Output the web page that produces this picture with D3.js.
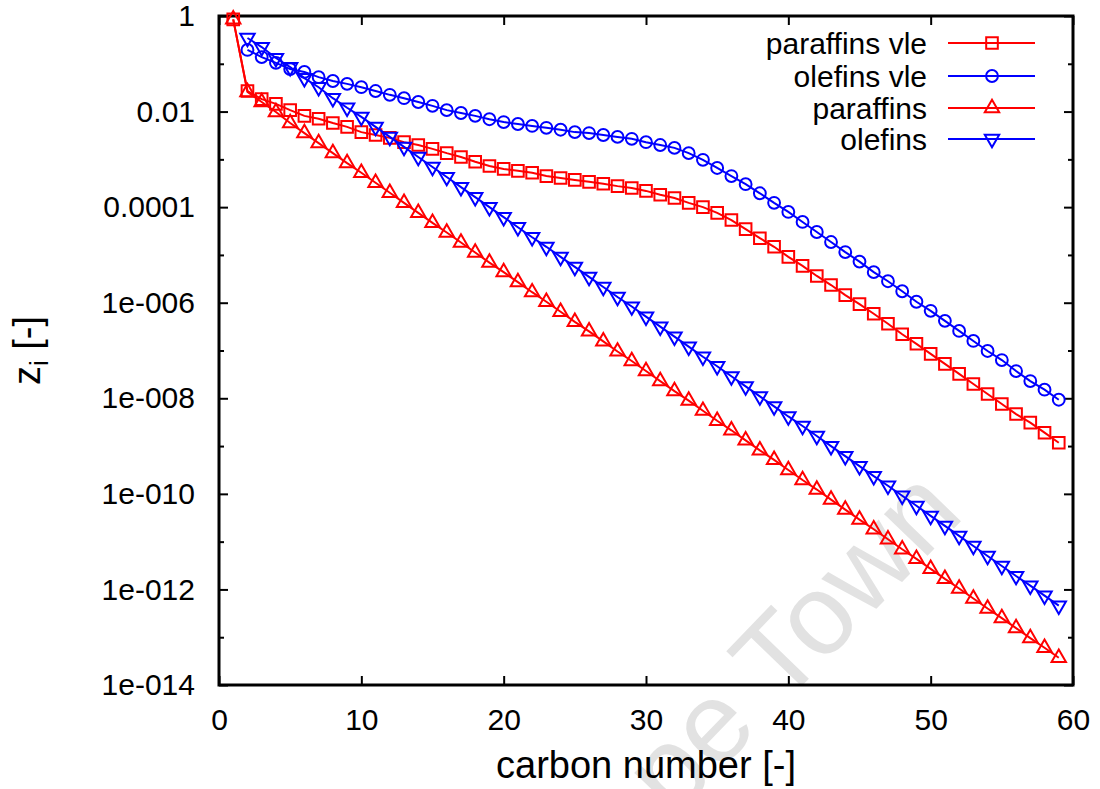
<!DOCTYPE html>
<html>
<head>
<meta charset="utf-8">
<script src="https://cdn.jsdelivr.net/npm/d3@7"></script>
<style>
  body { margin: 0; background: #fff; }
  text { font-family: "Liberation Sans", Arial, sans-serif; }
</style>
</head>
<body>
<div id="graph"></div>
<script>
// carbon numbers
var cnAll = [1,2,3,4,5,6,7,8,9,10,11,12,13,14,15,16,17,18,19,20,21,22,23,24,25,26,27,28,29,30,
  31,32,33,34,35,36,37,38,39,40,41,42,43,44,45,46,47,48,49,50,51,52,53,54,55,56,57,58,59];
var cnOle = cnAll.slice(1);

// log10(z_i)
var paraffinsVle = [-0.07,-1.57,-1.74,-1.84,-1.97,-2.09,-2.15,-2.24,-2.32,-2.43,-2.49,-2.55,-2.64,-2.70,-2.78,
  -2.87,-2.95,-3.05,-3.14,-3.20,-3.24,-3.28,-3.35,-3.39,-3.43,-3.47,-3.51,-3.56,-3.60,-3.66,
  -3.74,-3.81,-3.91,-4.00,-4.12,-4.27,-4.46,-4.65,-4.83,-5.04,-5.23,-5.44,-5.63,-5.84,-6.03,
  -6.23,-6.44,-6.66,-6.86,-7.07,-7.28,-7.49,-7.70,-7.91,-8.12,-8.33,-8.51,-8.72,-8.93];
var olefinsVle = [-0.71,-0.86,-0.98,-1.11,-1.17,-1.28,-1.36,-1.42,-1.49,-1.57,-1.65,-1.72,-1.80,-1.88,
  -1.97,-2.03,-2.09,-2.16,-2.22,-2.26,-2.30,-2.34,-2.38,-2.43,-2.45,-2.49,-2.53,-2.57,-2.64,
  -2.70,-2.76,-2.87,-3.01,-3.18,-3.35,-3.52,-3.71,-3.91,-4.10,-4.31,-4.52,-4.73,-4.94,-5.14,
  -5.36,-5.55,-5.76,-5.98,-6.17,-6.38,-6.59,-6.80,-7.01,-7.20,-7.43,-7.64,-7.82,-8.03];
var paraffins = [-0.07,-1.59,-1.80,-2.01,-2.24,-2.45,-2.66,-2.87,-3.08,-3.28,-3.49,-3.70,-3.91,-4.12,-4.33,
  -4.53,-4.74,-4.95,-5.16,-5.36,-5.57,-5.78,-5.98,-6.19,-6.40,-6.60,-6.81,-7.02,-7.22,-7.43,
  -7.64,-7.85,-8.05,-8.26,-8.47,-8.67,-8.88,-9.09,-9.29,-9.50,-9.71,-9.91,-10.12,-10.33,-10.54,
  -10.74,-10.95,-11.16,-11.36,-11.57,-11.78,-11.98,-12.19,-12.40,-12.60,-12.81,-13.02,-13.22,-13.43];
var olefins = [-0.46,-0.65,-0.88,-1.07,-1.30,-1.49,-1.72,-1.92,-2.11,-2.32,-2.53,-2.74,-2.95,-3.16,
  -3.37,-3.58,-3.79,-4.00,-4.21,-4.42,-4.63,-4.83,-5.04,-5.25,-5.46,-5.67,-5.88,-6.08,-6.29,
  -6.50,-6.71,-6.92,-7.13,-7.33,-7.54,-7.75,-7.96,-8.17,-8.38,-8.58,-8.79,-9.00,-9.21,-9.42,
  -9.63,-9.83,-10.04,-10.25,-10.46,-10.67,-10.88,-11.09,-11.30,-11.51,-11.72,-11.92,-12.13,-12.34];

var seriesNames = ["paraffins vle", "olefins vle", "paraffins", "olefins"];
var seriesColors = ["#ff0000", "#0000ff", "#ff0000", "#0000ff"];

var xTicks = [0,10,20,30,40,50,60];
var yTicks = [1,1e-2,1e-4,1e-6,1e-8,1e-10,1e-12,1e-14];
var yTickLabels = ["1","0.01","0.0001","1e-006","1e-008","1e-010","1e-012","1e-014"];
var yMinor = [1e-1,1e-3,1e-5,1e-7,1e-9,1e-11,1e-13];

var width = 1100, height = 789;
var margin = {top: 16, right: 27, bottom: 104, left: 219};
var w = width - margin.left - margin.right;
var h = height - margin.top - margin.bottom;

var svg = d3.select("#graph")
  .append("svg")
    .attr("width", width)
    .attr("height", height);

// watermark
svg.append("text")
  .attr("transform", "translate(966,516) rotate(-46)")
  .attr("text-anchor", "end")
  .attr("font-size", 114)
  .attr("fill", "#e2e2e2")
  .text("University of Cape Town");

var g = svg.append("g")
  .attr("transform", "translate(" + margin.left + "," + margin.top + ")");

var x = d3.scaleLinear().domain([0, 60]).range([0, w]);
var y = d3.scaleLog().domain([1, 1e-14]).range([0, h]);

var styleAxis = function(sel) {
  sel.select(".domain").remove();
  sel.selectAll(".tick line").attr("stroke", "#000").attr("stroke-width", 2);
  sel.selectAll("text").attr("font-size", 30).attr("fill", "#000");
};

g.append("g")
  .attr("transform", "translate(0," + h + ")")
  .call(d3.axisBottom(x).tickValues(xTicks).tickSize(-9).tickPadding(24).tickFormat(d3.format("d")))
  .call(styleAxis);
g.append("g")
  .call(d3.axisTop(x).tickValues(xTicks).tickSize(-9).tickFormat(""))
  .call(styleAxis);
g.append("g")
  .call(d3.axisLeft(y).tickValues(yTicks).tickSize(-9).tickPadding(24)
    .tickFormat(function(d, i) { return yTickLabels[i]; }))
  .call(styleAxis);
g.append("g")
  .call(d3.axisLeft(y).tickValues(yMinor).tickSize(-5).tickFormat(""))
  .call(styleAxis);
g.append("g")
  .attr("transform", "translate(" + w + ",0)")
  .call(d3.axisRight(y).tickValues(yTicks).tickSize(-9).tickFormat(""))
  .call(styleAxis);
g.append("g")
  .attr("transform", "translate(" + w + ",0)")
  .call(d3.axisRight(y).tickValues(yMinor).tickSize(-5).tickFormat(""))
  .call(styleAxis);

g.append("rect")
  .attr("width", w).attr("height", h)
  .attr("fill", "none").attr("stroke", "#000").attr("stroke-width", 3);

// axis titles
svg.append("text")
  .attr("x", margin.left + w / 2).attr("y", 778)
  .attr("text-anchor", "middle").attr("font-size", 38)
  .text("carbon number [-]");
var yl = svg.append("text")
  .attr("transform", "translate(40," + (margin.top + h / 2) + ") rotate(-90)")
  .attr("text-anchor", "middle").attr("font-size", 38);
yl.append("tspan").text("z");
yl.append("tspan").attr("font-size", 26).attr("dy", 8).text("i");
yl.append("tspan").attr("dy", -8).text(" [-]");

var symbols = [
  d3.symbol().type(d3.symbolSquare).size(135),
  d3.symbol().type(d3.symbolCircle).size(110),
  d3.symbol().type(d3.symbolTriangle).size(90),
  d3.symbol().type(d3.symbolTriangle).size(90)
];
var rotations = [0, 0, 0, 180];

var makeData = function(cn, logs) {
  return cn.map(function(c, i) { return {cn: c, z: Math.pow(10, logs[i])}; });
};
var allSeries = [
  makeData(cnAll, paraffinsVle),
  makeData(cnOle, olefinsVle),
  makeData(cnAll, paraffins),
  makeData(cnOle, olefins)
];

var line = d3.line()
  .x(function(d) { return x(d.cn); })
  .y(function(d) { return y(d.z); });

allSeries.forEach(function(data, k) {
  g.append("path")
    .datum(data)
    .attr("fill", "none")
    .attr("stroke", seriesColors[k])
    .attr("stroke-width", 2)
    .attr("d", line);
  g.selectAll(".pt" + k)
    .data(data)
    .enter().append("path")
      .attr("class", "pt" + k)
      .attr("transform", function(d) {
        return "translate(" + x(d.cn) + "," + y(d.z) + ") rotate(" + rotations[k] + ")";
      })
      .attr("d", symbols[k])
      .attr("fill", "none")
      .attr("stroke", seriesColors[k])
      .attr("stroke-width", 2);
});

// legend
var legendY = [43, 76, 108, 139];
var legend = svg.append("g");
seriesNames.forEach(function(name, k) {
  legend.append("text")
    .attr("x", 927).attr("y", legendY[k]).attr("dy", "0.35em")
    .attr("text-anchor", "end").attr("font-size", 30)
    .text(name);
  legend.append("line")
    .attr("x1", 948).attr("x2", 1035)
    .attr("y1", legendY[k]).attr("y2", legendY[k])
    .attr("stroke", seriesColors[k]).attr("stroke-width", 2);
  legend.append("path")
    .attr("transform", "translate(992," + legendY[k] + ") rotate(" + rotations[k] + ")")
    .attr("d", symbols[k])
    .attr("fill", "none")
    .attr("stroke", seriesColors[k])
    .attr("stroke-width", 2);
});
</script>
</body>
</html>
